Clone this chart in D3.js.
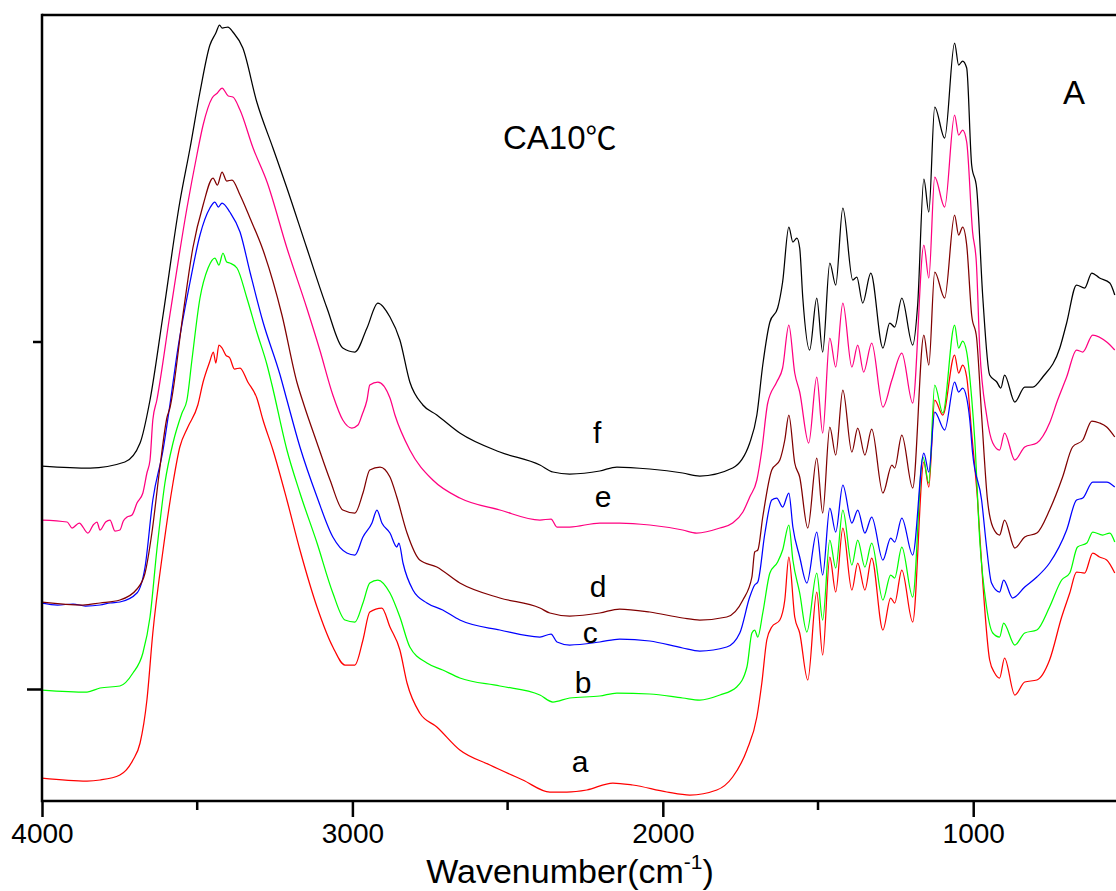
<!DOCTYPE html>
<html>
<head>
<meta charset="utf-8">
<script src="https://cdn.jsdelivr.net/npm/d3@7"></script>
<style>
  html, body { margin: 0; padding: 0; background: #fff; }
  svg { display: block; font-family: "Liberation Sans", Arial, sans-serif; }
</style>
</head>
<body>
<svg id="chart" width="1116" height="891"></svg>
<script>
// FTIR spectra, CA 10°C — values are [wavenumber cm-1, intensity (a.u.)]

const specA = [
  [4000, 2.3], [3855, 2.0], [3813, 2.1], [3749, 2.6], [3707, 4.1], [3684, 5.8], [3662, 10.1],
  [3643, 16.8], [3610, 25.1], [3578, 31.8], [3556, 35.4], [3530, 37.4], [3498, 39.6], [3481, 41.9],
  [3460, 43.9], [3448, 44.9], [3440, 43.8], [3430, 45.6], [3420, 45.3], [3408, 44.6], [3395, 44.3],
  [3380, 43.2], [3362, 43.3], [3337, 41.9], [3308, 40.3], [3288, 38.1], [3256, 35.1], [3211, 30.1],
  [3169, 25.1], [3114, 19.4], [3063, 15.4], [3024, 13.6], [2992, 13.6], [2966, 16.1], [2944, 18.9],
  [2905, 19.3], [2879, 17.4], [2847, 15.1], [2824, 11.8], [2783, 8.8], [2728, 7.4], [2654, 5.1],
  [2557, 3.6], [2451, 2.1], [2364, 0.9], [2309, 0.9], [2245, 1.1], [2161, 1.8], [2097, 1.6],
  [1987, 0.9], [1913, 0.6], [1826, 1.1], [1775, 2.4], [1729, 5.1], [1697, 8.4], [1681, 11.8],
  [1665, 16.1], [1649, 17.4], [1623, 18.1], [1607, 20.1], [1594, 24.4], [1575, 18.4], [1559, 16.8],
  [1533, 12.1], [1504, 20.9], [1485, 14.6], [1462, 24.4], [1443, 20.9], [1420, 27.3], [1391, 21.1],
  [1372, 23.8], [1349, 21.1], [1327, 24.3], [1291, 17.1], [1266, 20.3], [1253, 19.8], [1230, 23.1],
  [1195, 17.9], [1159, 33.9], [1143, 31.4], [1124, 40.1], [1098, 38.6], [1060, 44.6], [1047, 42.8],
  [1034, 43.6], [1021, 42.4], [1005, 36.8], [986, 30.1], [969, 21.8], [947, 14.1], [931, 12.8],
  [915, 12.3], [899, 14.3], [866, 10.6], [834, 11.9], [795, 12.1], [754, 14.1], [715, 18.4],
  [689, 20.8], [667, 22.9], [641, 22.8], [615, 24.8], [593, 24.4], [570, 24.1], [544, 22.8]
];

const specB = [
  [4000, 11.1], [3855, 10.9], [3813, 11.3], [3749, 11.5], [3707, 12.8], [3675, 14.8], [3652, 18.4],
  [3630, 25.1], [3604, 31.8], [3578, 35.8], [3549, 38.8], [3533, 40.1], [3517, 44.1], [3491, 50.3],
  [3465, 53.3], [3443, 54.3], [3430, 53.6], [3417, 54.8], [3405, 53.9], [3395, 53.8], [3372, 53.3],
  [3340, 50.3], [3308, 46.9], [3275, 43.6], [3259, 41.6], [3211, 35.1], [3169, 30.8], [3114, 25.8],
  [3063, 20.8], [3024, 18.1], [2992, 17.9], [2966, 19.8], [2944, 21.8], [2918, 22.1], [2879, 20.8],
  [2847, 18.4], [2815, 15.4], [2760, 13.8], [2709, 13.1], [2654, 12.3], [2525, 11.5], [2396, 10.6],
  [2354, 9.9], [2300, 10.3], [2203, 10.5], [2148, 10.8], [2042, 10.7], [1936, 10.3], [1881, 10.1],
  [1816, 10.6], [1762, 11.4], [1729, 13.4], [1713, 16.8], [1704, 17.1], [1694, 16.4], [1678, 18.8],
  [1655, 22.8], [1630, 23.9], [1614, 25.1], [1594, 27.6], [1581, 24.1], [1559, 20.8], [1536, 16.9],
  [1504, 22.8], [1485, 18.1], [1462, 26.1], [1443, 23.3], [1420, 29.1], [1391, 23.6], [1372, 26.1],
  [1349, 23.4], [1327, 25.8], [1291, 20.1], [1266, 22.6], [1253, 22.3], [1230, 25.4], [1195, 20.4],
  [1162, 34.4], [1143, 31.8], [1124, 41.6], [1098, 38.8], [1060, 47.6], [1047, 45.3], [1034, 46.0],
  [1021, 44.9], [1005, 40.3], [995, 36.1], [979, 26.1], [957, 19.4], [937, 16.8], [915, 16.4],
  [902, 17.8], [866, 15.6], [834, 16.8], [795, 17.1], [754, 19.4], [715, 22.1], [689, 22.8],
  [664, 25.4], [634, 25.8], [615, 26.9], [583, 26.6], [560, 26.8], [544, 25.9]
];

const specC = [
  [4000, 19.8], [3950, 19.6], [3900, 19.7], [3860, 19.5], [3813, 19.6], [3780, 19.8], [3749, 19.9],
  [3694, 20.8], [3668, 23.4], [3643, 30.1], [3610, 35.1], [3588, 39.6], [3562, 45.3], [3523, 51.9],
  [3491, 56.6], [3459, 59.3], [3443, 59.9], [3432, 59.4], [3420, 59.8], [3395, 58.9], [3362, 56.9],
  [3330, 52.9], [3288, 47.9], [3233, 42.6], [3211, 40.1], [3169, 35.4], [3114, 30.4], [3063, 26.4],
  [3018, 24.8], [2992, 24.6], [2966, 26.4], [2937, 27.8], [2921, 29.1], [2905, 27.8], [2879, 26.8],
  [2857, 25.4], [2850, 25.8], [2837, 23.8], [2805, 21.1], [2760, 19.8], [2709, 19.1], [2654, 18.1],
  [2525, 17.1], [2396, 16.4], [2360, 16.7], [2341, 15.9], [2300, 15.6], [2203, 15.9], [2139, 16.2],
  [2042, 16.0], [1936, 15.3], [1881, 15.0], [1794, 15.4], [1752, 16.8], [1720, 20.4], [1704, 21.6],
  [1694, 21.9], [1671, 26.8], [1649, 30.1], [1633, 30.3], [1614, 29.4], [1594, 30.8], [1581, 27.4],
  [1559, 24.4], [1536, 21.8], [1504, 26.9], [1485, 22.6], [1462, 29.3], [1443, 26.9], [1420, 31.6],
  [1391, 27.8], [1372, 29.1], [1349, 26.8], [1327, 28.4], [1291, 24.1], [1266, 26.3], [1253, 25.9],
  [1230, 28.3], [1195, 24.6], [1159, 34.8], [1143, 32.9], [1124, 38.9], [1092, 37.1], [1060, 41.9],
  [1047, 40.9], [1034, 41.3], [1021, 40.3], [1011, 38.1], [1002, 34.8], [973, 30.1], [957, 25.4],
  [941, 21.8], [915, 20.9], [902, 22.1], [873, 20.3], [834, 21.4], [795, 22.4], [754, 23.8],
  [699, 27.1], [667, 30.1], [647, 30.3], [615, 31.9], [570, 31.9], [544, 31.4]
];

const specD = [
  [4000, 19.9], [3868, 19.6], [3813, 19.8], [3749, 20.1], [3694, 21.2], [3668, 22.8], [3646, 26.8],
  [3620, 33.4], [3597, 38.4], [3588, 39.3], [3546, 48.6], [3514, 55.3], [3481, 59.6], [3449, 62.3],
  [3435, 61.6], [3420, 62.9], [3405, 62.0], [3388, 62.1], [3362, 60.6], [3330, 58.3], [3288, 55.1],
  [3227, 48.6], [3179, 41.9], [3156, 39.6], [3114, 35.8], [3072, 32.1], [3031, 29.1], [2992, 28.8],
  [2966, 30.8], [2944, 33.1], [2911, 33.4], [2879, 32.4], [2857, 30.4], [2824, 26.8], [2783, 24.1],
  [2728, 23.4], [2654, 21.8], [2525, 20.3], [2396, 19.3], [2364, 18.8], [2300, 18.5], [2203, 18.8],
  [2139, 19.2], [2042, 18.9], [1936, 18.3], [1881, 18.1], [1794, 18.4], [1742, 20.1], [1713, 22.4],
  [1704, 24.9], [1694, 25.1], [1678, 28.4], [1649, 33.1], [1623, 34.1], [1607, 36.1], [1594, 38.6],
  [1575, 33.8], [1559, 32.4], [1533, 27.3], [1504, 34.3], [1485, 28.8], [1462, 37.4], [1443, 34.6],
  [1420, 41.1], [1391, 34.9], [1372, 37.3], [1349, 34.6], [1327, 37.2], [1291, 30.8], [1262, 33.6],
  [1253, 33.3], [1230, 36.6], [1195, 31.3], [1159, 46.6], [1143, 43.6], [1124, 52.9], [1092, 50.3],
  [1060, 58.6], [1047, 56.6], [1034, 57.4], [1021, 55.6], [1005, 48.6], [989, 46.3], [973, 38.6],
  [954, 30.1], [937, 27.4], [915, 26.6], [899, 28.1], [866, 25.3], [834, 26.4], [795, 26.8],
  [754, 29.1], [712, 32.4], [680, 35.4], [647, 36.1], [618, 38.0], [593, 37.8], [570, 37.4], [544, 36.4]
];

const specE = [
  [4000, 28.1], [3919, 27.9], [3903, 27.3], [3880, 27.8], [3852, 26.8], [3835, 27.6], [3823, 27.9],
  [3813, 27.1], [3795, 27.9], [3781, 28.1], [3765, 27.0], [3749, 27.1], [3738, 28.0], [3726, 28.4],
  [3710, 28.6], [3694, 29.8], [3675, 30.8], [3662, 32.8], [3652, 34.1], [3643, 38.1], [3630, 40.1],
  [3588, 48.6], [3533, 59.3], [3501, 64.6], [3481, 67.6], [3452, 70.3], [3435, 70.8], [3420, 71.3],
  [3400, 70.5], [3385, 70.4], [3362, 69.1], [3320, 65.3], [3275, 61.9], [3211, 55.3], [3147, 49.3],
  [3105, 45.1], [3063, 40.6], [3031, 38.1], [3002, 37.3], [2982, 37.6], [2969, 38.6], [2953, 40.1],
  [2944, 41.6], [2918, 41.9], [2879, 40.3], [2863, 38.6], [2815, 35.1], [2741, 32.1], [2654, 30.3],
  [2525, 29.1], [2396, 28.1], [2360, 28.2], [2341, 27.4], [2300, 27.4], [2203, 27.8], [2139, 27.8],
  [2042, 27.6], [1936, 27.1], [1891, 26.8], [1816, 27.3], [1775, 27.8], [1742, 28.9], [1720, 30.4],
  [1697, 32.1], [1681, 35.1], [1662, 39.8], [1633, 41.9], [1614, 43.3], [1594, 47.6], [1575, 42.8],
  [1559, 40.9], [1530, 35.8], [1504, 42.4], [1485, 36.8], [1462, 46.3], [1443, 43.4], [1420, 49.8],
  [1391, 43.4], [1372, 45.6], [1353, 42.9], [1327, 45.8], [1291, 39.4], [1262, 42.1], [1230, 44.8],
  [1195, 39.8], [1159, 55.6], [1143, 52.3], [1124, 62.4], [1092, 59.4], [1060, 68.6], [1047, 66.6],
  [1034, 67.1], [1021, 65.9], [1002, 56.9], [990, 53.9], [979, 45.3], [957, 38.6], [937, 35.8],
  [915, 35.1], [899, 36.8], [866, 34.1], [834, 35.4], [795, 35.8], [754, 37.8], [728, 40.1],
  [699, 42.4], [667, 45.1], [647, 44.9], [615, 46.6], [570, 45.9], [544, 45.1]
];

const specF = [
  [4000, 33.5], [3845, 33.3], [3733, 33.9], [3684, 35.8], [3652, 40.1], [3610, 48.6], [3556, 59.9],
  [3523, 65.3], [3491, 70.9], [3459, 75.6], [3440, 76.8], [3428, 77.6], [3420, 77.3], [3401, 77.4],
  [3385, 76.9], [3353, 75.3], [3308, 69.9], [3256, 65.3], [3211, 61.3], [3147, 55.3], [3082, 49.3],
  [3031, 45.3], [2992, 44.9], [2953, 47.3], [2918, 49.8], [2879, 48.4], [2847, 46.1], [2815, 41.9],
  [2773, 39.6], [2728, 38.6], [2654, 36.8], [2525, 34.9], [2396, 33.6], [2354, 32.9], [2300, 32.7],
  [2203, 33.0], [2148, 33.4], [2042, 33.2], [1936, 32.8], [1881, 32.5], [1775, 33.3], [1720, 35.8],
  [1697, 38.6], [1678, 43.6], [1655, 47.9], [1630, 49.3], [1614, 51.9], [1594, 57.4], [1581, 55.9],
  [1568, 56.3], [1559, 55.3], [1549, 50.3], [1527, 45.1], [1504, 50.3], [1485, 44.9], [1462, 53.8],
  [1443, 51.6], [1420, 59.3], [1388, 52.1], [1375, 52.4], [1356, 49.8], [1330, 52.8], [1291, 45.3],
  [1269, 47.8], [1253, 47.4], [1230, 50.3], [1195, 45.6], [1179, 49.6], [1159, 62.2], [1143, 58.9],
  [1124, 69.4], [1092, 66.3], [1060, 75.8], [1047, 73.6], [1034, 74.0], [1021, 73.3], [1005, 63.6],
  [989, 61.3], [969, 50.3], [947, 42.6], [924, 41.9], [911, 41.3], [899, 42.6], [866, 39.9],
  [834, 41.4], [808, 41.4], [776, 42.4], [721, 45.3], [699, 47.8], [667, 51.6], [641, 51.3],
  [618, 52.8], [593, 52.3], [560, 51.8], [544, 50.6]
];

const seriesNames = ['a', 'b', 'c', 'd', 'e', 'f'];
const seriesColors = ['#ff0000', '#00ff00', '#0000ff', '#800000', '#ff0080', '#000000'];
const seriesData = [specA, specB, specC, specD, specE, specF];
// label anchor: [wavenumber, intensity]
const labelPos = [[2293, 2.9], [2284, 10.8], [2258, 15.8], [2235, 20.4], [2219, 29.4], [2225, 35.8]];

const xMajorTicks = [4000, 3000, 2000, 1000];
const xMinorTicks = [3500, 2500, 1500];
const yMajorTicks = [11.2];
const yMinorTicks = [45.9];

const svg = d3.select('#chart');
const plotLeft = 42, plotRight = 1116, plotTop = 15, plotBottom = 801;

const x = d3.scaleLinear().domain([4000, 540]).range([plotLeft, plotRight]);
const y = d3.scaleLinear().domain([0, 78.6]).range([plotBottom, plotTop]);

svg.append('defs').append('clipPath').attr('id', 'plot-clip')
  .append('rect').attr('x', plotLeft).attr('y', plotTop)
  .attr('width', plotRight - plotLeft).attr('height', plotBottom - plotTop);

// Spectra
const line = d3.line()
  .x(d => x(d[0]))
  .y(d => y(d[1]))
  .curve(d3.curveMonotoneX);

const plot = svg.append('g').attr('clip-path', 'url(#plot-clip)');
seriesData.forEach((s, i) => {
  plot.append('path')
    .datum(s)
    .attr('fill', 'none')
    .attr('stroke', seriesColors[i])
    .attr('stroke-width', 1.25)
    .attr('stroke-linejoin', 'round')
    .attr('d', line);
});

// Frame (left, top) and axes
const axisColor = '#000';
svg.append('line').attr('x1', plotLeft).attr('x2', plotRight).attr('y1', plotTop).attr('y2', plotTop)
  .attr('stroke', axisColor).attr('stroke-width', 2.5);

const xAxis = svg.append('g').attr('transform', `translate(0,${plotBottom})`);
xAxis.call(d3.axisBottom(x).tickValues(xMajorTicks).tickSize(16).tickFormat(d3.format('d')));
xAxis.select('.domain').remove();
xAxis.selectAll('.tick line').attr('stroke-width', 2.5);
xAxis.selectAll('.tick text')
  .attr('y', 22)
  .style('font-size', '28px')
  .style('font-family', '"Liberation Sans", Arial, sans-serif')
  .attr('fill', '#000');
xAxis.selectAll('.minor')
  .data(xMinorTicks)
  .join('line')
  .attr('class', 'minor')
  .attr('x1', d => x(d)).attr('x2', d => x(d))
  .attr('y1', 0).attr('y2', 9)
  .attr('stroke', axisColor).attr('stroke-width', 2.5);
xAxis.append('line').attr('x1', plotLeft).attr('x2', plotRight).attr('y1', 0).attr('y2', 0)
  .attr('stroke', axisColor).attr('stroke-width', 2.5);

const yAxis = svg.append('g').attr('transform', `translate(${plotLeft},0)`);
yAxis.call(d3.axisLeft(y).tickValues(yMajorTicks).tickSize(15).tickFormat(''));
yAxis.select('.domain').remove();
yAxis.selectAll('.tick line').attr('stroke-width', 2.5);
yAxis.selectAll('.minor')
  .data(yMinorTicks)
  .join('line')
  .attr('class', 'minor')
  .attr('y1', d => y(d)).attr('y2', d => y(d))
  .attr('x1', 0).attr('x2', -9)
  .attr('stroke', axisColor).attr('stroke-width', 2.5);
yAxis.append('line').attr('x1', 0).attr('x2', 0).attr('y1', plotTop - 1.25).attr('y2', plotBottom + 1.25)
  .attr('stroke', axisColor).attr('stroke-width', 2.5);

// Axis title
const title = svg.append('text')
  .attr('x', 570)
  .attr('y', 883)
  .attr('text-anchor', 'middle')
  .style('font-size', '34px')
  .attr('fill', '#000');
title.append('tspan').text('Wavenumber(cm');
title.append('tspan').attr('dy', -14).style('font-size', '21px').text('-1');
title.append('tspan').attr('dy', 14).text(')');

// Series labels
svg.selectAll('.series-label')
  .data(seriesNames)
  .join('text')
  .attr('class', 'series-label')
  .attr('x', (d, i) => x(labelPos[i][0]))
  .attr('y', (d, i) => y(labelPos[i][1]))
  .style('font-size', '30px')
  .attr('fill', '#000')
  .text(d => d);

// Annotations
const ann = svg.append('text')
  .attr('x', 503)
  .attr('y', 149)
  .style('font-size', '33px')
  .attr('fill', '#000');
ann.append('tspan').text('CA10');
ann.append('tspan').style('font-family', '"Noto Sans CJK SC", sans-serif').style('font-size', '31px').text('℃');

svg.append('text')
  .attr('x', 1063)
  .attr('y', 104)
  .style('font-size', '33px')
  .attr('fill', '#000')
  .text('A');
</script>
</body>
</html>
